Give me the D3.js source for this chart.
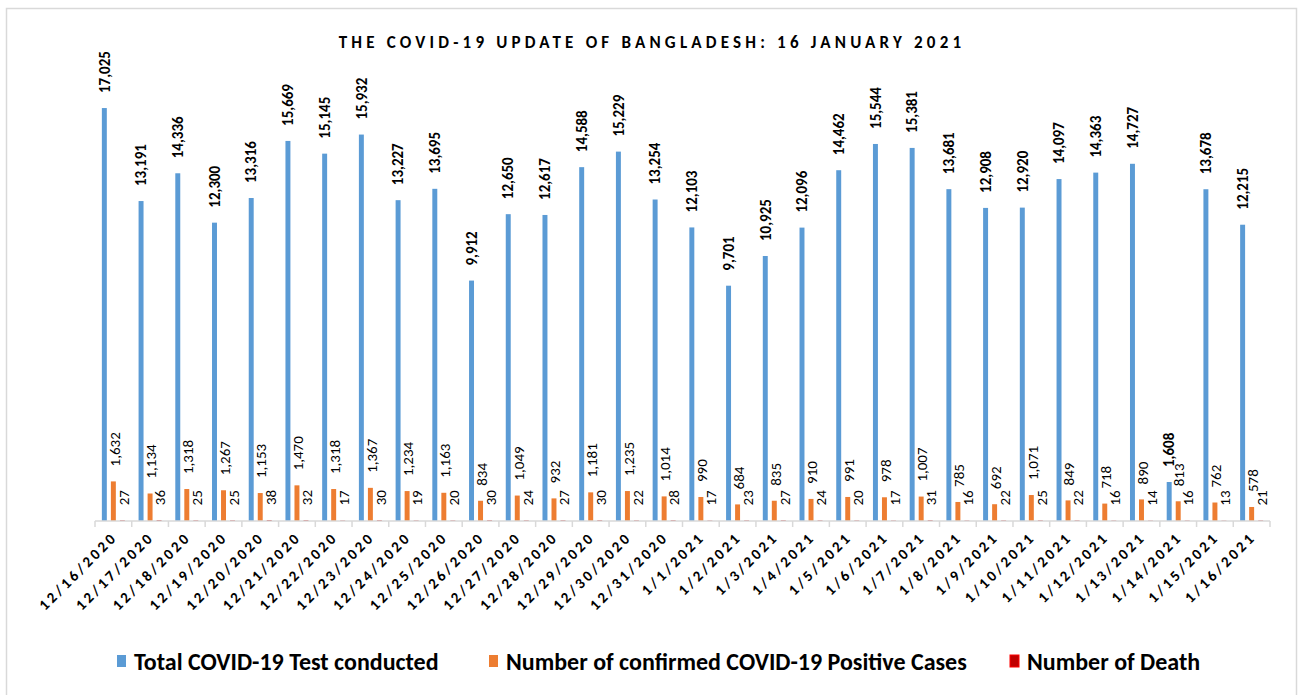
<!DOCTYPE html>
<html>
<head>
<meta charset="utf-8">
<script src="https://cdn.jsdelivr.net/npm/d3@7"></script>
<style>
  body { margin: 0; background: #fff; }
  text { font-family: Calibri, Carlito, "Liberation Sans", Arial, sans-serif; fill: #000; }
</style>
</head>
<body>
<script>
// days on the x axis
var dates = ["12/16/2020", "12/17/2020", "12/18/2020", "12/19/2020", "12/20/2020", "12/21/2020",
  "12/22/2020", "12/23/2020", "12/24/2020", "12/25/2020", "12/26/2020", "12/27/2020", "12/28/2020",
  "12/29/2020", "12/30/2020", "12/31/2020", "1/1/2021", "1/2/2021", "1/3/2021", "1/4/2021",
  "1/5/2021", "1/6/2021", "1/7/2021", "1/8/2021", "1/9/2021", "1/10/2021", "1/11/2021",
  "1/12/2021", "1/13/2021", "1/14/2021", "1/15/2021", "1/16/2021"];

var tests = [17025, 13191, 14336, 12300, 13316, 15669, 15145, 15932, 13227, 13695, 9912, 12650,
  12617, 14588, 15229, 13254, 12103, 9701, 10925, 12096, 14462, 15544, 15381, 13681, 12908,
  12920, 14097, 14363, 14727, 1608, 13678, 12215];

var positives = [1632, 1134, 1318, 1267, 1153, 1470, 1318, 1367, 1234, 1163, 834, 1049, 932,
  1181, 1235, 1014, 990, 684, 835, 910, 991, 978, 1007, 785, 692, 1071, 849, 718, 890, 813,
  762, 578];

var deaths = [27, 36, 25, 25, 38, 32, 17, 30, 19, 20, 30, 24, 27, 30, 22, 28, 17, 23, 27, 24,
  20, 17, 31, 16, 22, 25, 22, 16, 14, 16, 13, 21];

var seriesNames = ["Total COVID-19 Test conducted", "Number of confirmed COVID-19 Positive Cases", "Number of Death"];
var seriesColors = ["#5B9BD5", "#ED7D31", "#C00000"];

var w = 1300, h = 695;

var svg = d3.select("body").append("svg")
  .attr("width", w)
  .attr("height", h);

// chart border
svg.append("rect")
  .attr("x", 6.5).attr("y", 8.5)
  .attr("width", 1290).attr("height", 700)
  .style("fill", "#fff")
  .style("stroke", "#D9D9D9")
  .style("stroke-width", 1.5);

// title
svg.append("text")
  .attr("x", 652).attr("y", 48)
  .style("text-anchor", "middle")
  .style("font-weight", "bold")
  .style("font-size", "17px")
  .style("letter-spacing", "4.2px")
  .text("THE COVID-19 UPDATE OF BANGLADESH: 16 JANUARY 2021");

var xScale = d3.scaleBand()
  .domain(dates)
  .range([95, 1270]);

var yScale = d3.scaleLinear()
  .domain([0, 18000])
  .range([521, 84.4]);

// place of each series inside a day
var inner = d3.scaleBand()
  .domain([0, 1, 2])
  .range([xScale.bandwidth() / 2 - 11.5, xScale.bandwidth() / 2 + 11.5])
  .paddingInner(0.45);

var series = [tests, positives, deaths];

series.forEach(function(values, s) {
  var g = svg.append("g");

  g.selectAll("rect")
    .data(values)
    .enter().append("rect")
    .attr("x", function(d, i) { return xScale(dates[i]) + inner(s); })
    .attr("y", function(d) { return yScale(d); })
    .attr("width", inner.bandwidth())
    .attr("height", function(d) { return yScale(0) - yScale(d); })
    .style("fill", seriesColors[s]);

  // value labels, turned upright
  g.selectAll("text")
    .data(values)
    .enter().append("text")
    .attr("transform", function(d, i) {
      var cx = xScale(dates[i]) + inner(s) + inner.bandwidth() / 2 + (s == 0 ? 0 : 1);
      return "translate(" + cx + "," + (yScale(d) - 15) + ") rotate(-90)";
    })
    .attr("dy", "0.35em")
    .style("font-size", "15px")
    .style("font-weight", s == 0 ? "bold" : "normal")
    .text(function(d) { return d3.format(",")(d); });
});

// x axis
var xAxis = svg.append("g")
  .attr("transform", "translate(0,521)");

xAxis.append("line")
  .attr("x1", 95).attr("x2", 1270)
  .style("stroke", "#D9D9D9")
  .style("stroke-width", 1.5);

xAxis.selectAll("line.tick")
  .data(dates.concat(["end"]))
  .enter().append("line")
  .attr("class", "tick")
  .attr("x1", function(d, i) { return 95 + i * xScale.step(); })
  .attr("x2", function(d, i) { return 95 + i * xScale.step(); })
  .attr("y1", 0).attr("y2", 6)
  .style("stroke", "#D9D9D9")
  .style("stroke-width", 1.5);

xAxis.selectAll("text")
  .data(dates)
  .enter().append("text")
  .attr("transform", function(d) {
    return "translate(" + (xScale(d) + xScale.bandwidth() / 2 + 5) + ",17) rotate(-45)";
  })
  .style("text-anchor", "end")
  .style("font-weight", "bold")
  .style("font-size", "15px")
  .style("letter-spacing", "3px")
  .text(function(d) { return d; });

// legend
var legendX = [117, 489, 1010];
var legend = svg.selectAll("g.legend")
  .data(seriesNames)
  .enter().append("g")
  .attr("class", "legend")
  .attr("transform", function(d, i) { return "translate(" + legendX[i] + ",655)"; });

legend.append("rect")
  .attr("width", 9).attr("height", 12)
  .style("fill", function(d, i) { return seriesColors[i]; })
  .style("stroke", function(d, i) { return i == 2 ? "#FF0000" : "none"; });

legend.append("text")
  .attr("x", 17).attr("y", 15)
  .style("font-weight", "bold")
  .style("font-size", "24px")
  .text(function(d) { return d; });
</script>
</body>
</html>
